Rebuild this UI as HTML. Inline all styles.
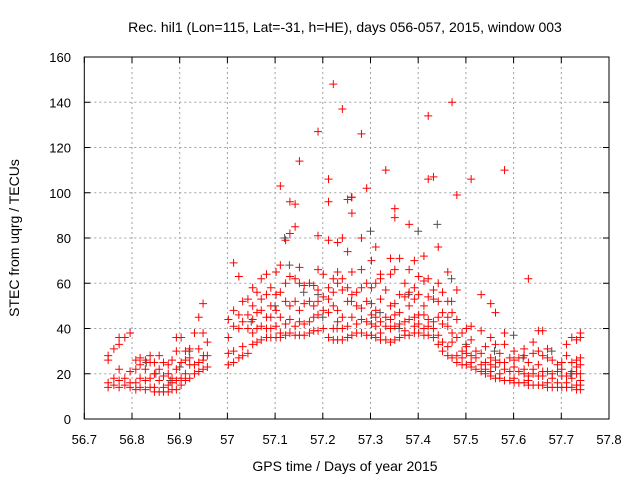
<!DOCTYPE html>
<html><head><meta charset="utf-8"><style>
body{margin:0;background:#fff;}
svg{display:block;font-family:"Liberation Sans",sans-serif;}
</style></head><body>
<svg id="chart" width="640" height="480" viewBox="0 0 640 480">
<rect width="640" height="480" fill="#fff"/>
<text x="345" y="32" font-size="14" text-anchor="middle">Rec. hil1 (Lon=115, Lat=-31, h=HE), days 056-057, 2015, window 003</text>
<g id="grid"></g>
<g id="axes"></g>
<g id="marks"></g>
<text x="345" y="471" font-size="14" text-anchor="middle">GPS time / Days of year 2015</text>
<text x="19" y="238" font-size="14" text-anchor="middle" transform="rotate(-90 19 238)">STEC from uqrg / TECUs</text>
</svg>
<script>
const xTicks=[56.7,56.8,56.9,57,57.1,57.2,57.3,57.4,57.5,57.6,57.7,57.8];
const xTickLabels=["56.7","56.8","56.9","57","57.1","57.2","57.3","57.4","57.5","57.6","57.7","57.8"];
const yTicks=[0,20,40,60,80,100,120,140,160];
const redX=[56.75,56.762,56.773,56.785,56.796,56.808,56.817,56.828,56.838,56.847,56.857,56.866,56.876,56.884,56.893,56.903,56.912,56.921,56.931,56.94,56.949,56.958,57.002,57.013,57.024,57.032,57.043,57.053,57.062,57.071,57.082,57.091,57.102,57.111,57.122,57.131,57.142,57.151,57.161,57.172,57.181,57.19,57.201,57.212,57.222,57.231,57.241,57.252,57.261,57.271,57.281,57.292,57.302,57.311,57.321,57.332,57.342,57.351,57.361,57.372,57.381,57.392,57.401,57.412,57.421,57.432,57.442,57.451,57.462,57.471,57.481,57.492,57.501,57.511,57.521,57.532,57.541,57.552,57.562,57.571,57.581,57.592,57.601,57.611,57.622,57.631,57.641,57.652,57.661,57.671,57.681,57.692,57.701,57.711,57.722,57.732,57.74];
const redY=[[14,16,26,28],[15,18,31],[14,17,22,33,36],[15,18,36],[14,16,21,38],[13,16,22,26],[14,18,24,27],[13,17,22,26],[14,18,25,28],[12,14,20,25],[12,17,22,28],[12,14,19,25],[12,15,20,24],[13,16,18,26],[13,17,22,30,36],[15,18,25,36],[17,20,26,30],[18,24,27,31],[20,24,38],[21,25,31,45],[22,26,38,51],[23,28,34],[24,29,36,44],[25,30,41,48,69],[27,40,46,63],[28,32,43,52],[29,40,46,53],[33,38,44,50,58],[34,40,47,56],[35,41,48,53,62],[36,40,45,55,64],[36,40,45,50,58],[36,41,48,55,65],[36,38,45,56,68,103],[37,42,52,60,79],[38,44,50,63,82,96],[37,41,52,62,85,95],[37,43,48,60,67,114],[37,42,51,59],[38,43,52,60],[39,45,50,59],[39,46,52,57,66,81,127],[40,48,54,64],[36,47,53,58,79,96,106],[35,40,50,56,62,148],[35,43,48,60,65,78],[35,40,45,57,62,80,137],[36,41,52,58,74,97],[37,45,55,65,91,98],[38,42,50,56],[38,44,49,58,66,80,126],[37,43,52,60,102],[37,42,46,51,58,70],[36,41,45,48,60,76],[35,38,43,53,62,64],[35,41,45,57,110],[34,40,44,50,64,71],[35,41,46,51,66,89,93],[36,42,47,55,71],[37,39,43,54,60],[37,44,50,56,66,86],[38,41,45,53,58,70],[38,42,46,55,63],[37,40,46,50,61,72],[37,41,44,54,62,106,134],[36,40,43,53,57,107],[33,37,45,52,60,76],[30,34,42,47,56],[28,32,41,45,52,65],[27,34,38,47,140],[25,28,36,44,57,99],[24,27,30,38],[24,29,32,40],[23,25,28,35,41,106],[22,27,30],[21,24,29,39,55],[20,22,25,32],[19,21,24,27,36,51],[18,23,26,33,47],[18,20,25,29],[17,22,25,33,38,110],[17,21,27],[16,18,23,26,30],[16,21,27],[16,20,22,28,31],[15,17,19,25,62],[15,20,22,29,34],[15,19,24,30,39],[15,19,21,28,39],[14,16,21,27,31],[14,18,20,26],[14,16,21,24],[14,19,22,25],[14,16,19,28,33],[14,18,21,25,36],[13,15,20,23,26,35],[13,15,17,20,24,27,36,38]];
const grayX=[56.83,56.85,56.88,56.90,56.92,56.95,57.05,57.10,57.12,57.13,57.16,57.19,57.20,57.23,57.26,57.26,57.30,57.32,57.36,57.38,57.40,57.44,57.47,57.47,57.50,57.56,57.60,57.62,57.68,57.72];
const grayY=[25,20,17,23,30,28,43,50,80,68,56,55,45,40,98,52,83,47,40,55,83,86,62,52,33,30,37,27,30,20];

const NS='http://www.w3.org/2000/svg';
const X0=84.3,X1=609,Y0=419,Y1=57;
function sx(v){return X0+(v-56.7)/(57.8-56.7)*(X1-X0);}
function sy(v){return Y0-(v/160)*(Y0-Y1);}
function mk(tag,attrs,parent){const e=document.createElementNS(NS,tag);for(const k in attrs)e.setAttribute(k,attrs[k]);parent.appendChild(e);return e;}
const grid=document.getElementById('grid'),axes=document.getElementById('axes'),marks=document.getElementById('marks');
xTicks.forEach((t,i)=>{
  const x=sx(t);
  if(i>0&&i<xTicks.length-1){const g=mk('line',{x1:x,x2:x,y1:Y1,y2:Y0,stroke:'#a0a0a0','stroke-dasharray':'2,3'},grid);
    
    }
  const tk=mk('path',{d:`M${x},${Y0}v-6M${x},${Y1}v6`,stroke:'#000'},axes);
  
  
  const lb=mk('text',{x:x,y:444,'font-size':13,'text-anchor':'middle'},axes);lb.textContent=xTickLabels[i];
  
  
});
yTicks.forEach((t,i)=>{
  const y=sy(t);
  if(i>0&&i<yTicks.length-1){const g=mk('line',{x1:X0,x2:X1,y1:y,y2:y,stroke:'#a0a0a0','stroke-dasharray':'2,3'},grid);
    
    }
  const tk=mk('path',{d:`M${X0},${y}h6M${X1},${y}h-6`,stroke:'#000'},axes);
  
  
  const lb=mk('text',{x:71,y:y+5,'font-size':13,'text-anchor':'end'},axes);lb.textContent=String(t);
  
  
});
const fr=mk('rect',{x:X0,y:Y1,width:X1-X0,height:Y0-Y1,fill:'none',stroke:'#000'},axes);


function cross(xv,yv,col,name){
  const x=sx(xv),y=sy(yv);
  const p=mk('path',{d:`M${x-4},${y}h8M${x},${y-4}v8`,stroke:col,'stroke-width':1},marks);
  
  
}
grayX.forEach((xv,i)=>cross(xv,grayY[i],'#505050','gray-point'));
redX.forEach((xv,i)=>redY[i].forEach(yv=>cross(xv,yv,'#ff0000','red-point')));
</script>
</body></html>
